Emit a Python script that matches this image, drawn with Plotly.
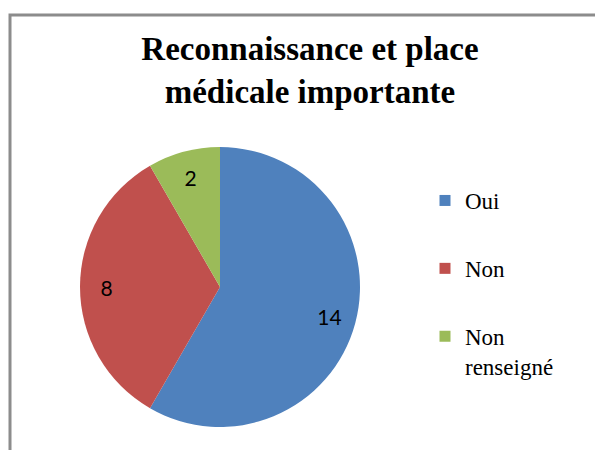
import plotly.graph_objects as go

# data
categories = ["Oui", "Non", "Non<br>renseigné"]
counts = [14, 8, 2]
colors = ["#4F81BD", "#C0504D", "#9BBB59"]

# page body has an 8px margin, so the figure is a bit smaller than the window
W, H = 587, 442
cx, cy, r = 212, 279, 140
pie_domain = dict(x=[(cx - r) / W, (cx + r) / W],
                  y=[(H - cy - r) / H, (H - cy + r) / H])

fig = go.Figure()

# the pie itself
fig.add_trace(go.Pie(
    labels=categories,
    values=counts,
    sort=False,
    direction="clockwise",
    rotation=0,
    marker=dict(colors=colors, line=dict(width=0)),
    textinfo="none",
    domain=pie_domain,
    showlegend=False,
    hoverinfo="label+value",
))

# transparent ring on top, only used to push the value labels towards the rim
fig.add_trace(go.Pie(
    labels=categories,
    values=counts,
    sort=False,
    direction="clockwise",
    rotation=0,
    hole=0.62,
    marker=dict(colors=["rgba(0,0,0,0)"] * len(counts), line=dict(width=0)),
    textinfo="value",
    textposition="inside",
    insidetextorientation="horizontal",
    textfont=dict(family="Lato", size=21, color="black"),
    domain=pie_domain,
    showlegend=False,
    hoverinfo="skip",
))

# legend entries
for i, (cat, col) in enumerate(zip(categories, colors)):
    fig.add_trace(go.Scatter(
        x=[None], y=[None],
        mode="markers",
        marker=dict(symbol="square", size=11, color=col),
        name=cat,
        legendgroup=f"g{i}",
    ))

fig.update_xaxes(visible=False)
fig.update_yaxes(visible=False)

# chart frame (grey border on the top and left side)
fig.add_shape(type="path",
              path=f"M {2 / W},-0.05 L {2 / W},{(H - 7) / H} L 1.05,{(H - 7) / H}",
              xref="paper", yref="paper",
              line=dict(color="#8c8c8c", width=3))

fig.update_layout(
    width=W,
    height=H,
    margin=dict(l=0, r=0, t=0, b=0),
    paper_bgcolor="white",
    plot_bgcolor="white",
    title=dict(
        text="<b>Reconnaissance et place<br>médicale importante</b>",
        font=dict(family="Liberation Serif", size=33, color="black"),
        x=302 / W, xanchor="center",
        y=1 - 52 / H, yanchor="top",
    ),
    legend=dict(
        x=417 / W, xanchor="left",
        y=1 - 171 / H, yanchor="top",
        font=dict(family="Liberation Serif", size=23, color="black"),
        tracegroupgap=35,
        valign="top",
        itemwidth=30,
        bgcolor="rgba(0,0,0,0)",
    ),
)

fig.write_html("out.html", config={"displayModeBar": False})
